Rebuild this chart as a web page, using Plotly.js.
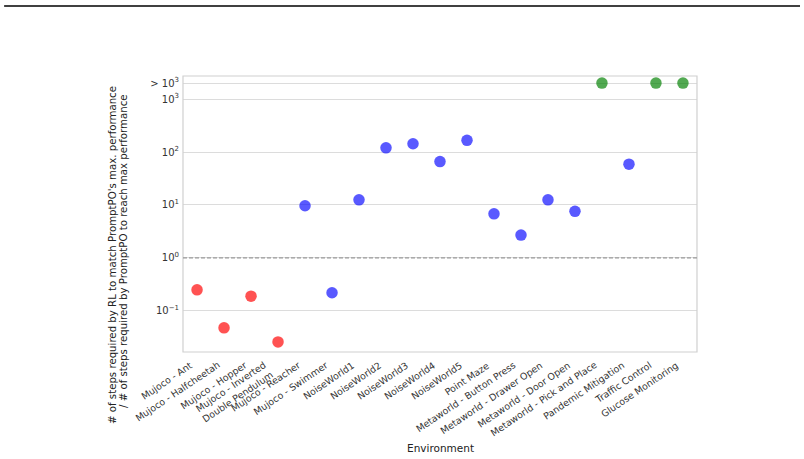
<!DOCTYPE html>
<html>
<head>
<meta charset="utf-8">
<script src="https://cdn.plot.ly/plotly-3.0.1.min.js"></script>
<style>html,body{margin:0;padding:0;background:#fff;}#chart{width:804px;height:459px;}</style>
</head>
<body>
<div id="chart"></div>
<script>
const environments = ["Mujoco - Ant","Mujoco - Halfcheetah","Mujoco - Hopper","Mujoco - Inverted<br>Double Pendulum","Mujoco - Reacher","Mujoco - Swimmer","NoiseWorld1","NoiseWorld2","NoiseWorld3","NoiseWorld4","NoiseWorld5","Point Maze","Metaworld - Button Press","Metaworld - Drawer Open","Metaworld - Door Open","Metaworld - Pick and Place","Pandemic Mitigation","Traffic Control","Glucose Monitoring"];
// ratio values; 2000 stands for "> 10^3" (RL never matched)
const ratios = [0.25,0.048,0.19,0.026,9.7,0.22,12.5,120,143,66,166,6.8,2.7,12.5,7.6,2000,59,2000,2000];
const groups = ["worse","worse","worse","worse","better","better","better","better","better","better","better","better","better","better","better","never","better","never","never"];
const yTickVals = [0.1,1,10,100,1000,2000];
const yTickText = ["10<sup>−1</sup>","10<sup>0</sup>","10<sup>1</sup>","10<sup>2</sup>","10<sup>3</sup>","> 10<sup>3</sup>"];
const groupColors = {worse:"rgba(255,0,0,0.68)", better:"rgba(0,0,255,0.65)", never:"rgba(0,128,0,0.68)"};

const traces = ["worse","better","never"].map(g => {
  const xs = [], ys = [];
  environments.forEach((e,i) => { if (groups[i]===g) { xs.push(e); ys.push(ratios[i]); } });
  return {type:"scatter", mode:"markers", x:xs, y:ys, marker:{size:11.5, color:groupColors[g], line:{width:0}}, showlegend:false, hoverinfo:"x+y"};
});

const ff = "DejaVu Sans, sans-serif";
const font = {family:ff, size:10, color:"#333"};
const tickAnnotations = environments.map(e => ({
  xref:"x", yref:"paper", x:e, y:-0.016, text:e, textangle:-34, showarrow:false,
  xanchor:"right", yanchor:"top", align:"center", xshift:0,
  font:{family:ff, size:9.4, color:"#333"}
}));

const layout = {
  width:804, height:459,
  margin:{l:183, r:107, t:76, b:107},
  paper_bgcolor:"#fff", plot_bgcolor:"#fff",
  font:font,
  xaxis:{type:"category", categoryorder:"array", categoryarray:environments, range:[-0.52,18.52],
    showticklabels:false, showgrid:false, zeroline:false, showline:false, ticks:""},
  yaxis:{type:"log", range:[-1.775,3.435], tickmode:"array", tickvals:yTickVals, ticktext:yTickText,
    showgrid:true, gridcolor:"#dcdcdc", gridwidth:1, zeroline:false, showline:false, ticks:"",
    ticklabelstandoff:3,
    tickfont:{family:ff, size:10, color:"#333"}},
  shapes:[
    {type:"rect", xref:"paper", yref:"paper", x0:0, x1:1, y0:0, y1:1, line:{color:"#d0d0d0", width:1.2}, layer:"above"},
    {type:"line", xref:"paper", yref:"y", x0:0, x1:1, y0:1, y1:1, line:{color:"#9a9a9a", width:1.2, dash:"4px,2px"}},
    {type:"line", xref:"paper", yref:"paper", x0:-0.348, x1:1.2004, y0:1.2536, y1:1.2536, line:{color:"#000", width:1.3}}
  ],
  annotations:tickAnnotations.concat([
    {xref:"paper", yref:"paper", x:(112-183)/514, y:(352-255)/276, text:"# of steps required by RL to match PromptPO's max. performance", textangle:-90, showarrow:false, font:{family:ff, size:10.2, color:"#222"}, xanchor:"center", yanchor:"middle"},
    {xref:"paper", yref:"paper", x:(124-183)/514, y:(352-251)/276, text:"/ # of steps required by PromptPO to reach max performance", textangle:-90, showarrow:false, font:{family:ff, size:10.2, color:"#222"}, xanchor:"center", yanchor:"middle"},
    {xref:"paper", yref:"paper", x:0.5, y:(352-448)/276, text:"Environment", showarrow:false, font:{family:ff, size:10.5, color:"#222"}, xanchor:"center", yanchor:"middle"}
  ])
};
Plotly.newPlot("chart", traces, layout, {displayModeBar:false, staticPlot:true});
</script>
</body>
</html>
